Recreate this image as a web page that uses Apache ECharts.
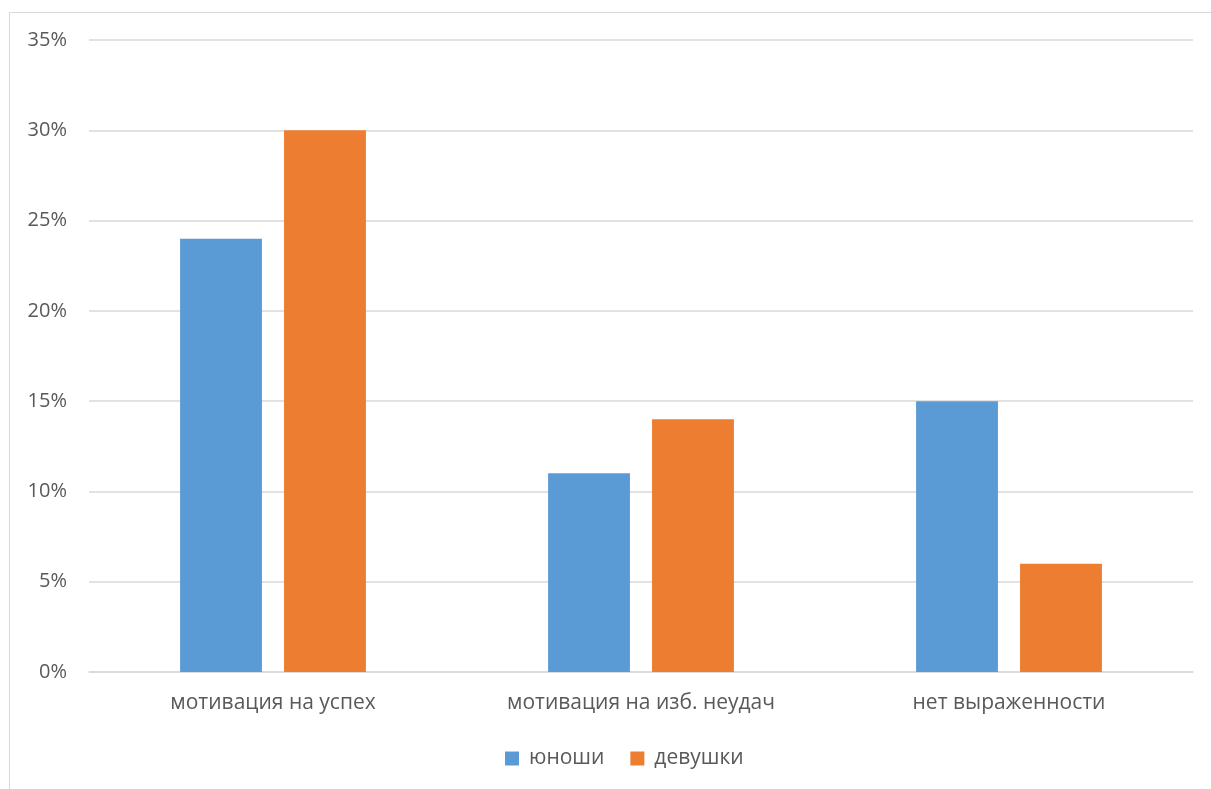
<!DOCTYPE html>
<html><head><meta charset="utf-8">
<script src="https://cdn.jsdelivr.net/npm/echarts@6/dist/echarts.min.js"></script>
<style>html,body{margin:0;padding:0;background:#fff}#c{width:1211px;height:789px;position:relative}
#frame{position:absolute;left:9px;top:12px;width:1220px;height:800px;border:1px solid #D9D9D9;box-sizing:border-box;pointer-events:none}</style>
</head><body><div id="c"></div><div id="frame"></div>
<script>
const categories = ['мотивация на успех', 'мотивация на изб. неудач', 'нет выраженности'];
const seriesNames = ['юноши', 'девушки'];
const boys = [24, 11, 15];
const girls = [30, 14, 6];
const colors = ['#5B9BD5', '#ED7D31'];
const font = 'Open Sans, Lato, sans-serif';
const chart = echarts.init(document.getElementById('c'));
chart.setOption({
  animation: false,
  grid: {left: 89, right: 18, top: 40, bottom: 117},
  legend: {bottom: 15, left: 500, itemWidth: 14, itemHeight: 14, itemGap: 26,
    icon: 'rect', textStyle: {color: '#595959', fontSize: 21, fontFamily: font, padding: [0, 0, 0, 5]},
    data: seriesNames},
  xAxis: {type: 'category', data: categories,
    axisLine: {lineStyle: {color: '#D9D9D9', width: 1.5}}, axisTick: {show: false},
    axisLabel: {color: '#595959', fontSize: 21, fontFamily: font, margin: 21}},
  yAxis: {type: 'value', min: 0, max: 35, interval: 5,
    axisLine: {show: false}, axisTick: {show: false},
    splitLine: {lineStyle: {color: '#D9D9D9', width: 1.5}},
    axisLabel: {color: '#595959', fontSize: 20, fontFamily: font, margin: 22, formatter: '{value}%'}},
  series: [
    {name: seriesNames[0], type: 'bar', data: boys, itemStyle: {color: colors[0]}, barGap: '27%', barCategoryGap: '49.5%'},
    {name: seriesNames[1], type: 'bar', data: girls, itemStyle: {color: colors[1]}, barGap: '27%', barCategoryGap: '49.5%'}
  ]
});
</script></body></html>
